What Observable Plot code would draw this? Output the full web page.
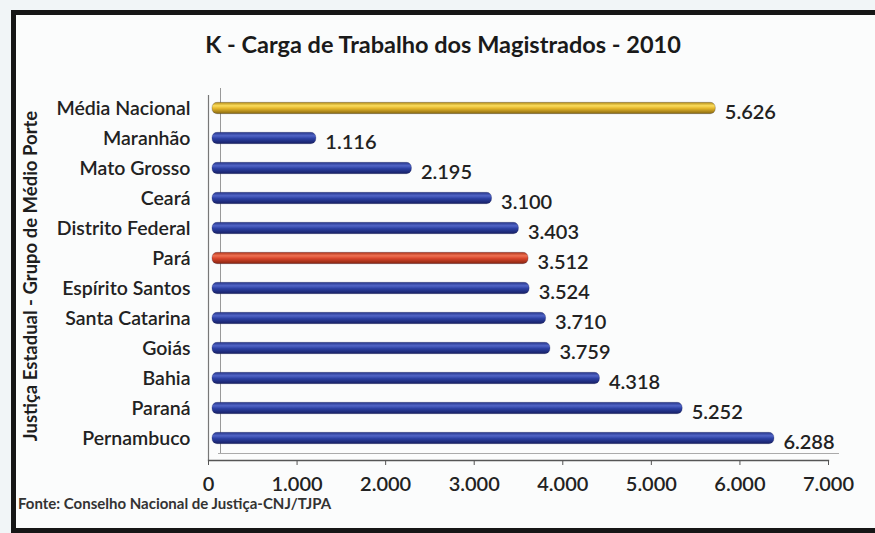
<!DOCTYPE html>
<html>
<head>
<meta charset="utf-8">
<script src="https://cdn.jsdelivr.net/npm/d3@7"></script>
<script src="https://cdn.jsdelivr.net/npm/@observablehq/plot@0.6"></script>
<style>
  html, body { margin: 0; padding: 0; background: #f1f5f7; }
  #page { position: relative; width: 875px; height: 533px; overflow: hidden; font-family: Lato, "Open Sans", sans-serif; }
  #frame { position: absolute; left: 11px; top: 10px; width: 900px; height: 523px; box-sizing: border-box; border: 5px solid #161616; background: #fbfcfc; }
  #title { position: absolute; left: 0; width: 886px; top: 30px; text-align: center; font-weight: bold; font-size: 23.5px; line-height: 28px; color: #1a1a1a; }
  #ytitle { position: absolute; left: -170px; top: 265px; width: 400px; height: 22px; line-height: 22px; text-align: center; font-weight: bold; font-size: 18.5px; color: #1e1e1e; transform: rotate(-90deg); transform-origin: 50% 50%; }
  #chart { position: absolute; left: 0; top: 85px; }
  #caption { position: absolute; left: 18px; top: 496px; line-height: 15px; font-weight: bold; font-size: 15px; color: #333; }
</style>
</head>
<body>
<div id="page">
  <div id="frame"></div>
  <div id="title">K - Carga de Trabalho dos Magistrados - 2010</div>
  <div id="ytitle">Justiça Estadual - Grupo de Médio Porte</div>
  <div id="chart"></div>
  <div id="caption">Fonte: Conselho Nacional de Justiça-CNJ/TJPA</div>
</div>
<script>
const categories = ["Média Nacional", "Maranhão", "Mato Grosso", "Ceará", "Distrito Federal", "Pará", "Espírito Santos", "Santa Catarina", "Goiás", "Bahia", "Paraná", "Pernambuco"];
const values = [5626, 1116, 2195, 3100, 3403, 3512, 3524, 3710, 3759, 4318, 5252, 6288];
const groups = ["media", "estado", "estado", "estado", "estado", "para", "estado", "estado", "estado", "estado", "estado", "estado"];
const xTicks = [0, 1000, 2000, 3000, 4000, 5000, 6000, 7000];

const data = categories.map((name, i) => ({name, value: values[i], group: groups[i]}));
const fmt = d3.formatLocale({decimal: ",", thousands: ".", grouping: [3], currency: ["R$", ""]}).format(",d");

const svg = Plot.plot({
  width: 875,
  height: 405,
  marginLeft: 208,
  marginRight: 47,
  marginTop: 10,
  marginBottom: 30,
  style: {fontFamily: "Lato, 'Open Sans', sans-serif", fontSize: "20px", fontWeight: 600, color: "#222", background: "transparent", overflow: "visible"},
  x: {domain: [0, 7000], label: null},
  y: {type: "band", domain: categories, range: [7, 369], padding: 0, label: null},
  color: {domain: ["media", "estado", "para"], range: ["url(#gGold)", "url(#gBlue)", "url(#gRed)"]},
  marks: [
    Plot.ruleX([0], {stroke: "#777", strokeWidth: 1.2}),
    Plot.ruleX([0], {stroke: "#999", dx: 12, dy: -7}),
    Plot.frame({anchor: "bottom", stroke: "#aaa", dx: 10, dy: -7}),
    Plot.frame({anchor: "bottom", stroke: "#555", strokeWidth: 1.3}),
    Plot.barX(data, {x: "value", y: "name", fill: "group", dx: 4, insetRight: -5, insetTop: 9.3, insetBottom: 9.3, rx: 5, stroke: "#1a1f4a", strokeOpacity: 0.4, strokeWidth: 0.6}),
    Plot.text(data, {x: "value", y: "name", text: d => fmt(d.value), textAnchor: "start", dx: 18, dy: 4, fill: "#222", fontSize: 20, fontWeight: 600}),
    Plot.axisX({ticks: xTicks, tickFormat: fmt, tickSize: 5, tickPadding: 11, stroke: "#555", fontSize: 20, fontWeight: 600, label: null}),
    Plot.axisY({tickSize: 0, tickPadding: 18, fontSize: 19.5, fontWeight: 600, label: null})
  ]
});

const defs = d3.select(svg).insert("defs", ":first-child");
function grad(id, stops) {
  const g = defs.append("linearGradient").attr("id", id).attr("x1", 0).attr("y1", 0).attr("x2", 0).attr("y2", 1);
  stops.forEach(([o, c]) => g.append("stop").attr("offset", o).attr("stop-color", c));
}
grad("gBlue", [[0, "#26358a"], [0.3, "#5064c6"], [0.55, "#2c40a2"], [1, "#161f64"]]);
grad("gGold", [[0, "#b48c16"], [0.3, "#fbdc5c"], [0.55, "#e2b42a"], [1, "#86670f"]]);
grad("gRed", [[0, "#b03418"], [0.3, "#ee7052"], [0.55, "#d6442a"], [1, "#862410"]]);

document.getElementById("chart").appendChild(svg);
</script>
</body>
</html>
